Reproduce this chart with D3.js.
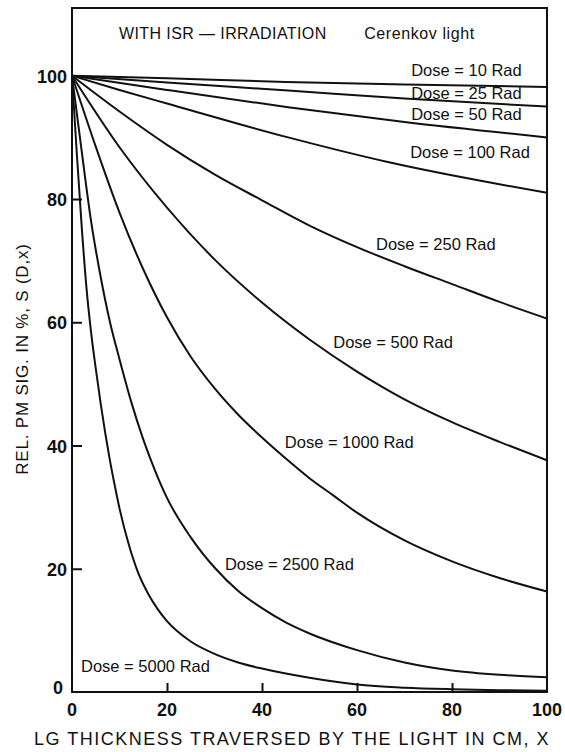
<!DOCTYPE html>
<html>
<head>
<meta charset="utf-8">
<script src="https://cdn.jsdelivr.net/npm/d3@7"></script>
<style>
  body { margin: 0; background: #fff; }
  text { font-family: "Liberation Sans", Arial, sans-serif; fill: #111; }
</style>
</head>
<body>
<script>
// constants
const width = 565;
const height = 752;
const margin = { top: 8, bottom: 60, left: 72, right: 18 };

// data: [thickness cm, signal %]
const dose10 = [[0,100],[20,99.6],[45,99.0],[70,98.6],[100,98.2]];
const dose25 = [[0,100],[20,98.9],[45.5,97.6],[70,96.3],[100,95.0]];
const dose50 = [[0,100],[20,97.7],[45.5,94.9],[70,92.5],[100,90.0]];
const dose100 = [[0,100],[10,97.7],[20,95.5],[45.5,90.0],[66.5,86.0],[100,81.0]];
const dose250 = [[0,100],[10,94.2],[20,88.8],[30,84.0],[40,79.8],[50,75.7],[60,72.2],[70,69.1],[80,66.2],[90,63.3],[100,60.6]];
const dose500 = [[0,100],[10,88.4],[20,78.6],[30,70.2],[40,63.2],[50,57.2],[60,52.0],[70,47.5],[80,43.8],[90,40.6],[100,37.6]];
const dose1000 = [[0,100],[5,88.5],[10,77.8],[15,68.6],[20,60.8],[25,54.4],[30,49.3],[35,45.0],[40,41.3],[45,37.9],[50,34.7],[55,31.9],[60,29.1],[70,24.6],[80,21.2],[90,18.5],[100,16.3]];
const dose2500 = [[0,100],[2,88],[4,76.5],[6,67.5],[8,60],[10,54],[12.5,47],[15,41],[17.5,35.9],[20,31.5],[25,25.1],[30,20.2],[35,16.4],[40,13.6],[45,11.3],[50,9.5],[60,6.8],[70,4.8],[80,3.5],[90,2.8],[100,2.4]];
const dose5000 = [[0,100],[1,87.5],[2,76],[3,66],[4,58.5],[5,52.5],[6,47],[7,42],[8,37.5],[9,33.5],[10,29.8],[12,23.8],[14,19.2],[16,16],[18,13.5],[20,11.5],[25,8.2],[30,6.2],[35,4.8],[40,3.8],[50,2.3],[60,1.2],[70,0.7],[80,0.45],[90,0.3],[100,0.2]];

const series = [dose10, dose25, dose50, dose100, dose250, dose500, dose1000, dose2500, dose5000];
const doseLabels = ["Dose = 10  Rad", "Dose = 25  Rad", "Dose = 50  Rad", "Dose = 100  Rad", "Dose = 250  Rad",
                    "Dose = 500  Rad", "Dose = 1000  Rad", "Dose = 2500  Rad", "Dose = 5000  Rad"];
// label anchor (data units)
const labelAt = [[71.4,100],[71.4,96.2],[71.4,92.9],[71.2,86.7],[64.0,71.7],[55.0,55.8],[44.8,39.6],[32.2,19.8],[1.9,3.2]];

const xTicks = [0, 20, 40, 60, 80, 100];
const yTicks = [0, 20, 40, 60, 80, 100];

const svg = d3.select('body').append('svg')
    .attr('width', width).attr('height', height);

const xScale = d3.scaleLinear().domain([0, 100]).range([margin.left, width - margin.right]);
const yScale = d3.scaleLinear().domain([0, 111]).range([height - margin.bottom, margin.top]);

// frame
svg.append('rect')
   .attr('x', xScale(0)).attr('y', yScale(111))
   .attr('width', xScale(100) - xScale(0)).attr('height', yScale(0) - yScale(111))
   .attr('fill', 'none').attr('stroke', '#111').attr('stroke-width', 2);

// inward ticks
const xAxis = d3.axisTop(xScale).tickValues([20, 40, 60, 80]).tickSize(9).tickFormat('');
svg.append('g').attr('transform', `translate(0, ${yScale(0)})`).call(xAxis)
   .call(g => g.select('.domain').remove())
   .selectAll('line').attr('stroke', '#111').attr('stroke-width', 2);
const yAxis = d3.axisRight(yScale).tickValues([20, 40, 60, 80]).tickSize(10).tickFormat('');
svg.append('g').attr('transform', `translate(${xScale(0)}, 0)`).call(yAxis)
   .call(g => g.select('.domain').remove())
   .selectAll('line').attr('stroke', '#111').attr('stroke-width', 2);

// tick labels
svg.append('g').selectAll('text').data(xTicks).enter().append('text')
   .attr('x', d => xScale(d)).attr('y', yScale(0) + 24)
   .attr('text-anchor', 'middle').attr('font-size', 18).attr('font-weight', 'bold')
   .text(d => d);
svg.append('g').selectAll('text').data(yTicks).enter().append('text')
   .attr('x', d => d === 0 ? xScale(0) - 9 : xScale(0) - 5)
   .attr('y', d => d === 0 ? yScale(d) + 2 : yScale(d) + 7)
   .attr('text-anchor', 'end').attr('font-size', 18).attr('font-weight', 'bold')
   .text(d => d);

// curves
const line = d3.line()
    .x(d => xScale(d[0])).y(d => yScale(d[1]))
    .curve(d3.curveMonotoneX);
svg.append('g').selectAll('path').data(series).enter().append('path')
   .attr('d', line).attr('fill', 'none')
   .attr('stroke', '#111').attr('stroke-width', 2);

// dose labels
svg.append('g').selectAll('text').data(doseLabels).enter().append('text')
   .attr('x', (d, i) => xScale(labelAt[i][0]))
   .attr('y', (d, i) => yScale(labelAt[i][1]))
   .attr('font-size', 16.5)
   .text(d => d);

// header
svg.append('text').attr('x', xScale(9.9)).attr('y', yScale(105.9))
   .attr('font-size', 16).attr('letter-spacing', 0.4).text('WITH ISR \u2014 IRRADIATION');
svg.append('text').attr('x', xScale(61.5)).attr('y', yScale(105.9))
   .attr('font-size', 16).attr('letter-spacing', 0.6).text('Cerenkov light');

// axis titles
svg.append('text').attr('x', 34).attr('y', 745)
   .attr('font-size', 18).attr('letter-spacing', 1.5)
   .text('LG THICKNESS TRAVERSED BY THE LIGHT IN CM, X');
svg.append('text')
   .attr('transform', `translate(28, 359) rotate(-90)`)
   .attr('text-anchor', 'middle').attr('font-size', 17).attr('letter-spacing', 0.8)
   .text('REL. PM SIG. IN %, S (D,x)');
</script>
</body>
</html>
